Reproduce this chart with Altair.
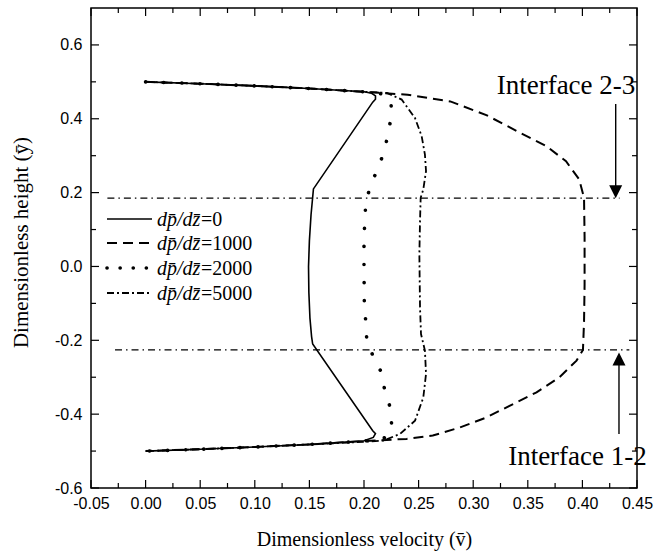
import altair as alt
import pandas as pd

# ---------------- data ----------------
series_labels = ["0", "1000", "2000", "5000"]

# dp/dz = 0 (solid)
v_0 = [0, 0.05, 0.10, 0.15, 0.20, 0.207, 0.2105, 0.2105, 0.208, 0.1537, 0.1515, 0.1500, 0.1492,
       0.1495, 0.1505, 0.1520, 0.153, 0.208, 0.2105, 0.2085, 0.200, 0.15, 0.10, 0.05, 0]
y_0 = [0.5, 0.495, 0.489, 0.482, 0.473, 0.469, 0.462, 0.453, 0.445, 0.21, 0.14, 0.07, 0.0,
       -0.07, -0.14, -0.19, -0.21, -0.445, -0.453, -0.463, -0.472, -0.482, -0.489, -0.495, -0.5]

# dp/dz = 1000 (dashed)
v_1000 = [0, 0.05, 0.10, 0.15, 0.20, 0.24, 0.279, 0.312, 0.343, 0.367, 0.385, 0.397, 0.4015, 0.402,
          0.402, 0.4015, 0.4005, 0.3946, 0.379, 0.358, 0.337, 0.312, 0.288, 0.263, 0.239, 0.20, 0.15,
          0.10, 0.05, 0]
y_1000 = [0.5, 0.495, 0.489, 0.482, 0.473, 0.465, 0.447, 0.41, 0.362, 0.326, 0.285, 0.236, 0.186, 0.08,
          -0.05, -0.15, -0.226, -0.255, -0.30, -0.341, -0.372, -0.409, -0.436, -0.458, -0.467, -0.473,
          -0.482, -0.489, -0.495, -0.5]

# dp/dz = 2000 (dotted)
v_2000 = [0, 0.05, 0.10, 0.15, 0.20, 0.218, 0.2245, 0.2255, 0.222, 0.219, 0.213, 0.2066, 0.2016, 0.201,
          0.200, 0.200, 0.2003, 0.2016, 0.2025, 0.2086, 0.216, 0.219, 0.224, 0.2254, 0.221, 0.20, 0.15,
          0.10, 0.05, 0]
y_2000 = [0.5, 0.495, 0.489, 0.482, 0.473, 0.467, 0.45, 0.411, 0.362, 0.314, 0.269, 0.222, 0.177, 0.132,
          0.082, 0.0, -0.102, -0.149, -0.197, -0.246, -0.287, -0.336, -0.382, -0.431, -0.463, -0.473,
          -0.482, -0.489, -0.495, -0.5]

# dp/dz = 5000 (dash-dot)
v_5000 = [0, 0.05, 0.10, 0.15, 0.20, 0.221, 0.2345, 0.2467, 0.2528, 0.2558, 0.2568, 0.2543, 0.2519,
          0.2513, 0.2507, 0.2513, 0.2522, 0.2558, 0.2568, 0.2543, 0.2467, 0.233, 0.2177, 0.20, 0.15,
          0.10, 0.05, 0]
y_5000 = [0.5, 0.495, 0.489, 0.482, 0.473, 0.47, 0.452, 0.402, 0.353, 0.303, 0.258, 0.209, 0.186,
          0.123, 0.033, -0.111, -0.183, -0.228, -0.291, -0.355, -0.418, -0.4535, -0.4716, -0.475,
          -0.482, -0.489, -0.495, -0.5]

# interfaces
iface_y = [0.185, -0.226]
iface_x_start = [-0.035, -0.028]
iface_x_end = [0.434, 0.443]

# annotations
ann_text = ["Interface 2-3", "Interface 1-2"]
ann_x = [0.3215, 0.332]
ann_y = [0.468, -0.539]

arrow_x = [0.4305, 0.4335]
arrow_y_from = [0.44, -0.4535]
arrow_y_to = [0.205, -0.25]
head_y = [0.2026, -0.2506]

# axis ticks
x_major = [-0.05, 0.0, 0.05, 0.10, 0.15, 0.20, 0.25, 0.30, 0.35, 0.40, 0.45]
x_minor = [-0.025, 0.025, 0.075, 0.125, 0.175, 0.225, 0.275, 0.325, 0.375, 0.425]
y_major = [-0.6, -0.4, -0.2, 0.0, 0.2, 0.4, 0.6]
y_minor = [-0.5, -0.3, -0.1, 0.1, 0.3, 0.5]

# ---------------- layout / style ----------------
W, H = 546, 480
SERIF = "Liberation Serif"
SANS = "Liberation Sans"

xs = alt.Scale(domain=[-0.05, 0.45], nice=False, zero=False)
ys = alt.Scale(domain=[-0.6, 0.7], nice=False, zero=False)

x_axis = alt.Axis(
    values=x_major, grid=False, domain=False, ticks=False, tickSize=0,
    labelFlush=False, labelOverlap=False,
    labelExpr="(datum.value < -1e-9 ? '-' : '') + format(abs(datum.value), '.2f')",
    labelFont=SANS, labelFontSize=16, labelColor="black", labelPadding=7,
    title="Dimensionless velocity (v\u0304)", titleFont=SERIF, titleFontSize=20,
    titleFontWeight="normal", titleColor="black", titleBaseline="alphabetic", titleY=57,
)
y_axis = alt.Axis(
    values=y_major, grid=False, domain=False, ticks=False, tickSize=0,
    labelFlush=False, labelOverlap=False,
    labelExpr="(datum.value < -1e-9 ? '-' : '') + format(abs(datum.value), '.1f')",
    labelFont=SANS, labelFontSize=16, labelColor="black", labelPadding=9,
    title="Dimensionless height (\u0233)", titleFont=SERIF, titleFontSize=21,
    titleFontWeight="normal", titleColor="black", titleBaseline="alphabetic",
    titleAngle=270, titleAlign="center", titleX=-64, titleY=234,
)


def X(f):
    return alt.X(f, type="quantitative", scale=xs, axis=x_axis)


def Y(f):
    return alt.Y(f, type="quantitative", scale=ys, axis=y_axis)


styles = {
    "0": dict(strokeWidth=1.6),
    "1000": dict(strokeWidth=2.0, strokeDash=[10, 6]),
    "2000": dict(strokeWidth=3.6, strokeDash=[0.1, 18], strokeCap="round"),
    "5000": dict(strokeWidth=1.8, strokeDash=[7, 3, 2, 3]),
}
legend_styles = {
    "0": dict(strokeWidth=1.6),
    "1000": dict(strokeWidth=2.0, strokeDash=[10, 6]),
    "2000": dict(strokeWidth=3.6, strokeDash=[0.1, 13], strokeCap="round"),
    "5000": dict(strokeWidth=1.8, strokeDash=[7, 3, 2, 3]),
}
series_data = {"0": (v_0, y_0), "1000": (v_1000, y_1000), "2000": (v_2000, y_2000), "5000": (v_5000, y_5000)}

layers = []

# interface lines
iface_df = pd.DataFrame({"x0": iface_x_start, "x1": iface_x_end, "y": iface_y})
layers.append(
    alt.Chart(iface_df).mark_rule(color="black", strokeWidth=1.2, strokeDash=[7, 4, 1.5, 4]).encode(
        x=X("x0"), x2=alt.X2("x1"), y=Y("y"))
)

# curves
for name in series_labels:
    v, y = series_data[name]
    df = pd.DataFrame({"v": v, "y": y, "i": list(range(len(v)))})
    layers.append(
        alt.Chart(df).mark_line(color="black", **styles[name]).encode(
            x=X("v"), y=Y("y"), order=alt.Order("i:Q"))
    )

# arrows
arr_df = pd.DataFrame({"x": arrow_x, "y0": arrow_y_from, "y1": arrow_y_to, "hy": head_y})
layers.append(
    alt.Chart(arr_df).mark_rule(color="black", strokeWidth=1.4).encode(
        x=X("x"), y=Y("y0"), y2=alt.Y2("y1"))
)
layers.append(
    alt.Chart(arr_df.iloc[[0]]).mark_point(shape="M-1,-1L1,-1L0,1Z", filled=True, size=169,
                                          color="black", opacity=1, strokeWidth=0).encode(
        x=X("x"), y=Y("hy"))
)
layers.append(
    alt.Chart(arr_df.iloc[[1]]).mark_point(shape="M-1,1L1,1L0,-1Z", filled=True, size=169,
                                          color="black", opacity=1, strokeWidth=0).encode(
        x=X("x"), y=Y("hy"))
)

# annotation texts
ann_df = pd.DataFrame({"x": ann_x, "y": ann_y, "t": ann_text})
layers.append(
    alt.Chart(ann_df).mark_text(font=SERIF, fontSize=27, align="left", baseline="alphabetic",
                                color="black").encode(x=X("x"), y=Y("y"), text="t:N")
)

# inward ticks on all four sides
def tick_layers(vals, length, axis):
    df = pd.DataFrame({"val": vals})
    out = []
    if axis == "x":
        out.append(alt.Chart(df).mark_rule(color="black", strokeWidth=1.2).encode(
            x=X("val"), y=alt.value(H), y2=alt.value(H - length)))
        out.append(alt.Chart(df).mark_rule(color="black", strokeWidth=1.2).encode(
            x=X("val"), y=alt.value(0), y2=alt.value(length)))
    else:
        out.append(alt.Chart(df).mark_rule(color="black", strokeWidth=1.2).encode(
            y=Y("val"), x=alt.value(0), x2=alt.value(length)))
        out.append(alt.Chart(df).mark_rule(color="black", strokeWidth=1.2).encode(
            y=Y("val"), x=alt.value(W), x2=alt.value(W - length)))
    return out

layers += tick_layers(x_major, 8, "x")
layers += tick_layers(x_minor, 5, "x")
layers += tick_layers(y_major, 8, "y")
layers += tick_layers(y_minor, 5, "y")

# legend (drawn manually)
LEG_Y = [211, 235, 260, 285]
LEG_X0, LEG_X1, LEG_TX, LEG_FS = 16, 61, 66, 20
one = pd.DataFrame({"a": [0]})
for name, ly in zip(series_labels, LEG_Y):
    layers.append(
        alt.Chart(one).mark_rule(color="black", **legend_styles[name]).encode(
            x=alt.value(LEG_X0), x2=alt.value(LEG_X1), y=alt.value(ly))
    )
    layers.append(
        alt.Chart(one).mark_text(text="dp\u0304/dz\u0304", font=SERIF, fontStyle="italic", fontSize=LEG_FS,
                                 align="left", baseline="alphabetic", color="black").encode(
            x=alt.value(LEG_TX), y=alt.value(ly + 7))
    )
    layers.append(
        alt.Chart(one).mark_text(text="=" + name, font=SERIF, fontSize=LEG_FS,
                                 align="left", baseline="alphabetic", color="black").encode(
            x=alt.value(LEG_TX + 44), y=alt.value(ly + 7))
    )

chart = alt.layer(*layers).properties(
    width=W, height=H,
    autosize=alt.AutoSizeParams(type="none"),
    padding={"left": 91, "top": 8, "right": 28, "bottom": 64},
    background="white",
).configure_view(stroke="black", strokeWidth=1.5)

chart.save("out.html", embed_options={"renderer": "svg", "actions": False})
